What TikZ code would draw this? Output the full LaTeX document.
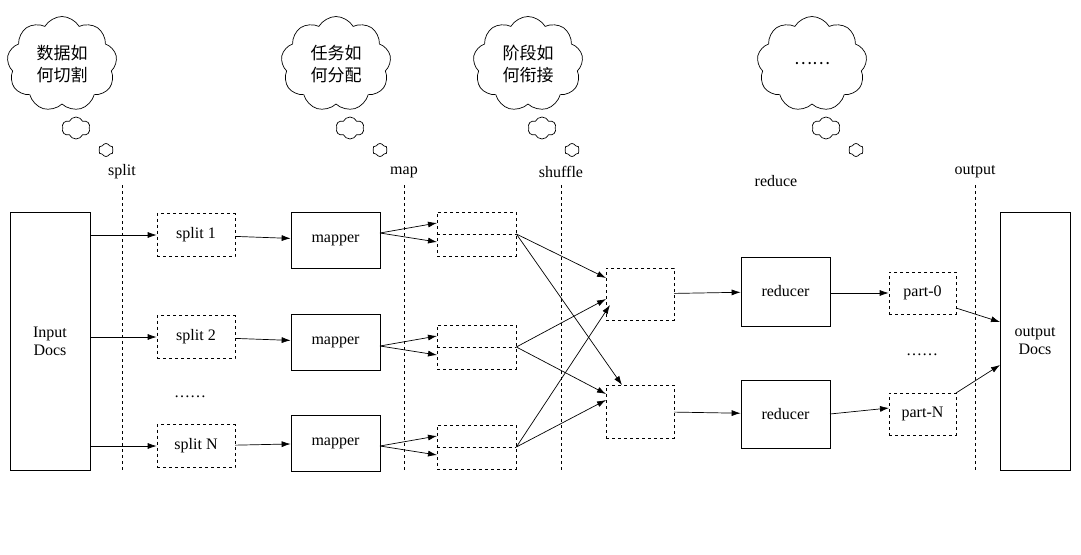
\documentclass[tikz,border=0pt]{standalone}
\usepackage{fontspec}
\setmainfont{Liberation Serif}
\newfontfamily\cjk{Noto Sans CJK SC}
\usetikzlibrary{arrows.meta,shapes.symbols}
\begin{document}
\begin{tikzpicture}[x=1pt,y=-1pt,font=\fontsize{16}{18}\selectfont,
 arr/.style={-{Latex[length=9pt,width=6pt]},line width=0.7pt},
 sbox/.style={draw,line width=0.7pt},
 dbox/.style={draw,dashed,line width=0.7pt},
 vline/.style={dashed,line width=0.7pt},
 cl/.style={cloud,draw,cloud puffs=9,cloud puff arc=120,aspect=1.2,line width=0.7pt,minimum width=110pt,minimum height=95pt,inner sep=0pt,align=center,font=\cjk\fontsize{17}{22}\selectfont},
 bub/.style={cloud,draw,cloud puffs=6,cloud puff arc=130,line width=0.7pt,inner sep=0pt}]
\useasboundingbox (0,0) rectangle (1081,554);
% clouds
\foreach \n/\x/\t in {c1/62/{数据如\\何切割},c2/336/{任务如\\何分配},c3/528/{阶段如\\何衔接},c4/812/{……}}{
 \node[cl] (\n) at (\x,64) {\t};
 \node[bub,minimum width=28pt,minimum height=22pt] (\n b) at (\x+14,128) {};
 \node[bub,minimum width=15pt,minimum height=13pt] (\n s) at (\x+44,150) {};
}
% big boxes
\node[sbox,minimum width=80pt,minimum height=258pt,align=center] (in) at (50,341) {Input\\Docs};
\node[sbox,minimum width=70pt,minimum height=258pt,align=center] (out) at (1035,341) {output\\Docs};
% vertical lines
\foreach \n/\x/\l in {v1/122/split,v2/404/map,v3/561/shuffle,v4/975/output}{
 \coordinate (\n t) at (\x,185); \coordinate (\n b) at (\x,470);
 \draw[vline] (\n t) -- (\n b);
 \node (\n l) at (\x,172) {\l};
}
\node (rl) at (776,181) {reduce};
% splits
\foreach \n/\y/\t in {s1/235/split 1,s2/337/split 2,s3/446/split N}{
 \node[dbox,minimum width=78pt,minimum height=43pt] (\n) at (196,\y) {\t};
 \draw[arr] (in.east|-\n) -- (\n);
}
\node (sd) at (190,397) {……};
% mappers
\foreach \n/\s/\y in {m1/s1/240,m2/s2/342,m3/s3/443}{
 \node[sbox,minimum width=89pt,minimum height=56pt] (\n) at (335.5,\y) {mapper};
 \draw[arr] (\s) -- (\n);
}
% intermediate
\foreach \n/\m/\y in {i1/m1/234,i2/m2/347,i3/m3/447}{
 \node[dbox,minimum width=79pt,minimum height=44pt] (\n) at (476.5,\y) {};
 \draw[dashed,line width=0.7pt] (\n.west) -- (\n.east);
 \coordinate (\n a) at (437,\y-11); \coordinate (\n b) at (437,\y+8);
 \coordinate (\n o) at (380,\y-1);
 \draw[arr] (\n o) -- (\n a);
 \draw[arr] (\n o) -- (\n b);
}
% shuffle boxes
\node[dbox,minimum width=68pt,minimum height=52pt] (h1) at (640,294) {};
\node[dbox,minimum width=68pt,minimum height=53pt] (h2) at (640,411.5) {};
\draw[arr] (i1.east) -- (606,278);
\draw[arr] (i1.east) -- (622,385);
\draw[arr] (i2.east) -- (606,299);
\draw[arr] (i2.east) -- (606,394);
\draw[arr] (i3.east) -- (610,305);
\draw[arr] (i3.east) -- (606,400);
% reducers
\node[sbox,minimum width=89pt,minimum height=69pt] (r1) at (785.5,291.5) {reducer};
\node[sbox,minimum width=89pt,minimum height=68pt] (r2) at (785.5,414) {reducer};
\draw[arr] (h1) -- (r1);
\draw[arr] (h2) -- (r2);
% parts
\node[dbox,minimum width=67pt,minimum height=42pt] (p1) at (922.5,293) {part-0};
\node[dbox,minimum width=67pt,minimum height=42pt] (p2) at (922.5,414) {part-N};
\node (pd) at (922,355) {……};
\draw[arr] (r1.east|-p1) -- (p1);
\draw[arr] (830,414) -- (889,408);
\draw[arr] (956,308) -- (1000,322);
\draw[arr] (956,393) -- (1000,365);
\end{tikzpicture}
\end{document}
